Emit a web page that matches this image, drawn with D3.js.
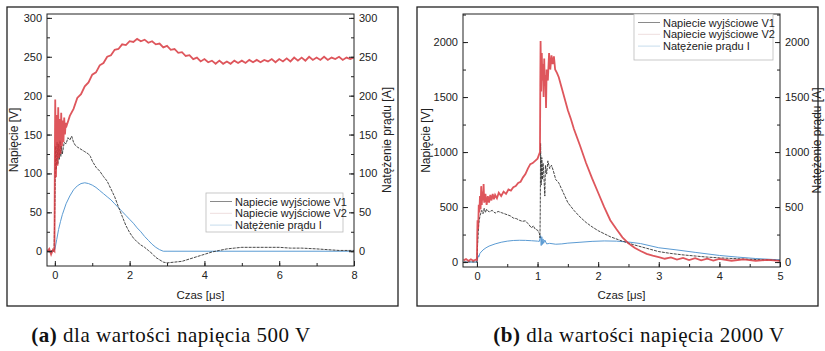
<!DOCTYPE html>
<html lang="pl">
<head>
<meta charset="utf-8" />
<script src="https://d3js.org/d3.v7.min.js"></script>
<style>
  html, body { margin: 0; padding: 0; background: #fff; }
  svg { display: block; }
</style>
</head>
<body>
<svg id="canvas" width="825" height="351"></svg>
<script>
// ---- dane: panel (a), 500 V ----  [czas us, wartosc]
var aV1 = [[-0.2,0],[-0.1,1],[-0.02,0],[0,60],[0.02,135],[0.04,105],[0.06,140],[0.08,112],[0.10,138],[0.12,118],
  [0.14,142],[0.16,122],[0.18,135],[0.2,125],[0.25,140],[0.3,138],[0.35,146],[0.4,143],[0.45,148],[0.5,140],
  [0.55,136],[0.6,134],[0.7,131],[0.8,128],[0.9,125],[0.95,122],[1.0,116],[1.1,108],[1.2,103],[1.3,96],[1.4,90],
  [1.5,80],[1.6,70],[1.7,57],[1.8,45],[1.9,33],[2.0,24],[2.1,17],[2.2,12],[2.3,8],[2.4,5],[2.5,1],[2.6,-3],
  [2.7,-8],[2.8,-11],[2.9,-14],[3.0,-15],[3.2,-14],[3.4,-13],[3.6,-10],[3.8,-7],[4.0,-4],[4.2,-1],[4.4,1],
  [4.6,3],[4.8,4],[5.0,5],[5.3,5],[5.6,5],[6.0,5],[6.3,4],[6.6,4],[7.0,3],[7.3,2],[7.6,1],[8.0,1]];
var aV2 = [[-0.2,0],[-0.15,3],[-0.1,-4],[-0.05,2],[-0.01,0],[0,120],[0.01,195],[0.03,95],[0.05,175],[0.07,110],
  [0.09,185],[0.11,120],[0.13,170],[0.15,125],[0.17,178],[0.19,135],[0.21,168],[0.23,140],[0.25,172],[0.27,150],
  [0.29,165],[0.3,159],[0.4,174],[0.5,183],[0.6,197],[0.7,202],[0.8,212],[0.9,217],[1.0,227],[1.1,230],[1.2,239],
  [1.3,242],[1.4,250],[1.5,252],[1.6,259],[1.7,260],[1.8,266],[1.9,265],[2.0,270],[2.1,269],[2.2,273],[2.3,270],
  [2.4,272],[2.5,268],[2.6,270],[2.7,266],[2.8,267],[2.9,262],[3.0,264],[3.1,259],[3.2,260],[3.3,255],[3.4,256],
  [3.5,251],[3.6,252],[3.7,247],[3.8,249],[3.9,244],[4.0,247],[4.1,243],[4.2,245],[4.3,241],[4.4,245],[4.5,241],
  [4.6,244],[4.7,241],[4.8,245],[4.9,242],[5.0,245],[5.1,242],[5.2,246],[5.3,243],[5.4,246],[5.5,243],[5.6,246],
  [5.7,244],[5.8,247],[5.9,243],[6.0,247],[6.1,244],[6.2,248],[6.3,244],[6.4,249],[6.5,245],[6.6,249],[6.7,245],
  [6.8,250],[6.9,246],[7.0,249],[7.1,246],[7.2,250],[7.3,246],[7.4,249],[7.5,247],[7.6,250],[7.7,246],[7.8,249],
  [7.9,247],[8.0,249]];
var aI = [[-0.2,0],[-0.05,0],[0,2],[0.05,15],[0.1,28],[0.15,38],[0.2,47],[0.3,61],[0.4,71],[0.5,79],[0.6,84],
  [0.7,87],[0.8,88],[0.9,87],[1.0,85],[1.1,82],[1.2,78],[1.3,74],[1.4,70],[1.5,66],[1.6,61],[1.7,56],[1.8,51],
  [1.9,46],[2.0,41],[2.1,36],[2.2,30],[2.3,25],[2.4,19],[2.5,14],[2.6,9],[2.7,5],[2.8,2],[2.9,0],[3.0,0],[8,0]];
var aXTicks = [0, 2, 4, 6, 8];
var aYTicks = [0, 50, 100, 150, 200, 250, 300];

// ---- dane: panel (b), 2000 V ----
var bV1 = [[-0.22,0],[-0.1,2],[0,0],[0.01,150],[0.03,350],[0.05,420],[0.08,470],[0.1,440],[0.12,490],[0.14,450],
  [0.16,480],[0.2,455],[0.25,470],[0.3,445],[0.35,460],[0.4,450],[0.45,440],[0.5,430],[0.55,420],[0.6,400],
  [0.65,395],[0.7,380],[0.75,370],[0.8,375],[0.85,345],[0.9,310],[0.93,330],[0.96,300],[1.0,290],[1.03,260],
  [1.04,220],[1.045,500],[1.05,1080],[1.06,700],[1.07,950],[1.08,750],[1.09,900],[1.1,830],[1.12,600],[1.13,880],
  [1.15,800],[1.17,920],[1.2,850],[1.23,880],[1.26,830],[1.3,750],[1.35,720],[1.4,660],[1.5,540],[1.6,470],
  [1.7,410],[1.8,360],[1.9,320],[2.0,285],[2.2,230],[2.4,190],[2.6,155],[2.8,125],[3.0,95],[3.2,78],[3.4,65],
  [3.6,55],[3.8,45],[4.0,38],[4.5,25],[5.0,15]];
var bV2 = [[-0.22,15],[-0.18,28],[-0.14,10],[-0.1,25],[-0.06,12],[-0.02,22],[0,20],[0.005,250],[0.01,380],
  [0.02,300],[0.03,520],[0.04,450],[0.05,600],[0.06,480],[0.07,690],[0.08,520],[0.09,640],[0.1,560],[0.11,710],
  [0.12,540],[0.14,620],[0.16,520],[0.18,600],[0.2,540],[0.22,610],[0.24,560],[0.26,620],[0.28,570],[0.3,610],
  [0.33,580],[0.36,630],[0.4,600],[0.44,640],[0.48,620],[0.52,660],[0.56,650],[0.6,680],[0.64,690],[0.68,720],
  [0.72,730],[0.76,770],[0.8,800],[0.84,850],[0.88,890],[0.92,900],[0.96,920],[1.0,940],[1.02,970],[1.04,1000],
  [1.045,1600],[1.05,2010],[1.06,1550],[1.07,1900],[1.08,1650],[1.09,1800],[1.1,1500],[1.11,1850],[1.12,1600],
  [1.13,1700],[1.14,1400],[1.15,1750],[1.17,1650],[1.19,1900],[1.21,1750],[1.23,1880],[1.25,1800],[1.27,1870],
  [1.29,1750],[1.32,1720],[1.35,1680],[1.4,1580],[1.45,1480],[1.5,1380],[1.55,1300],[1.6,1210],[1.7,1060],
  [1.8,900],[1.9,760],[2.0,630],[2.1,500],[2.2,380],[2.3,300],[2.4,225],[2.5,170],[2.6,130],[2.7,100],[2.8,75],
  [2.9,58],[3.0,45],[3.1,30],[3.2,42],[3.3,22],[3.4,38],[3.5,18],[3.6,35],[3.7,15],[3.8,30],[3.9,14],[4.0,28],
  [4.2,12],[4.4,24],[4.6,10],[4.8,20],[5.0,10]];
var bI = [[-0.22,0],[0,0],[0.01,30],[0.02,60],[0.03,45],[0.05,80],[0.1,110],[0.15,130],[0.2,145],[0.3,165],
  [0.4,180],[0.5,190],[0.6,196],[0.7,198],[0.8,197],[0.9,194],[1.0,190],[1.03,188],[1.05,240],[1.06,150],
  [1.07,230],[1.08,160],[1.09,210],[1.1,170],[1.12,200],[1.15,165],[1.2,170],[1.3,162],[1.4,165],[1.5,172],
  [1.7,180],[1.9,188],[2.1,192],[2.3,190],[2.5,182],[2.7,168],[3.0,130],[3.3,110],[3.6,88],[4.0,60],[4.3,45],
  [4.6,32],[5.0,20]];
var bXTicks = [0, 1, 2, 3, 4, 5];
var bYTicks = [0, 500, 1000, 1500, 2000];

var legendNames = ["Napiecie wyjściowe V1", "Napiecie wyjściowe V2", "Natężenie prądu I"];
var captions = [["(a)", " dla wartości napięcia 500 V"], ["(b)", " dla wartości napięcia 2000 V"]];

var svg = d3.select("#canvas");
var font = "'Liberation Sans', Arial, sans-serif";
var fmt = d3.format("d");

function drawPanel(p) {
  var g = svg.append("g");
  g.append("rect").attr("x", p.frame[0]).attr("y", p.frame[1]).attr("width", p.frame[2]).attr("height", p.frame[3])
    .attr("fill", "none").attr("stroke", "#222").attr("stroke-width", 1.3);

  var x = d3.scaleLinear().domain(p.xDom).range([p.left, p.right]);
  var y = d3.scaleLinear().domain(p.yDom).range([p.bottom, p.top]);

  var clipId = "clip" + p.id;
  g.append("clipPath").attr("id", clipId).append("rect")
    .attr("x", p.left).attr("y", p.top).attr("width", p.right - p.left).attr("height", p.bottom - p.top);

  var line = d3.line().x(function(d){ return x(d[0]); }).y(function(d){ return y(d[1]); });
  var plot = g.append("g").attr("clip-path", "url(#" + clipId + ")");
  plot.append("path").attr("d", line(p.i)).attr("fill", "none").attr("stroke", "#5b9bd3").attr("stroke-width", 1);
  plot.append("path").attr("d", line(p.v1)).attr("fill", "none").attr("stroke", "#333").attr("stroke-width", 0.9)
    .attr("stroke-dasharray", "3,1");
  plot.append("path").attr("d", line(p.v2)).attr("fill", "none").attr("stroke", "#d8383f").attr("stroke-width", 1.8)
    .attr("stroke-opacity", 0.85);

  // osie, tick do srodka
  var minorX = d3.range(0, p.xDom[1] + 1e-9, p.xMinor);
  var minorY = d3.range(0, p.yDom[1], p.yMinor);
  var axes = [
    [d3.axisBottom(x).tickValues(p.xTicks), "translate(0," + p.bottom + ")", d3.axisBottom(x).tickValues(minorX)],
    [d3.axisLeft(y).tickValues(p.yTicks), "translate(" + p.left + ",0)", d3.axisLeft(y).tickValues(minorY)],
    [d3.axisRight(y).tickValues(p.yTicks), "translate(" + p.right + ",0)", d3.axisRight(y).tickValues(minorY)]
  ];
  axes.forEach(function(a) {
    var minor = g.append("g").attr("transform", a[1]).call(a[2].tickSize(-3).tickFormat("").tickSizeOuter(0));
    minor.select(".domain").remove();
    var ax = g.append("g").attr("transform", a[1])
      .call(a[0].tickSize(-5).tickSizeOuter(0).tickPadding(5).tickFormat(fmt));
    ax.select(".domain").remove();
    ax.selectAll("text").attr("font-family", font).attr("font-size", 11).attr("fill", "#222");
  });
  g.selectAll(".tick line").attr("stroke", "#222");

  g.append("rect").attr("x", p.left).attr("y", p.top).attr("width", p.right - p.left).attr("height", p.bottom - p.top)
    .attr("fill", "none").attr("stroke", "#222").attr("stroke-width", 1);

  // tytuly osi
  g.append("text").attr("x", (p.left + p.right) / 2).attr("y", 299).attr("text-anchor", "middle")
    .attr("font-family", font).attr("font-size", 11.5).attr("fill", "#222").text("Czas [μs]");
  g.append("text").attr("transform", "translate(" + p.yTitleL + "," + (p.top + p.bottom) / 2 + ") rotate(-90)")
    .attr("text-anchor", "middle").attr("font-family", font).attr("font-size", 12).attr("fill", "#222")
    .text("Napięcie [V]");
  g.append("text").attr("transform", "translate(" + p.yTitleR + "," + (p.top + p.bottom) / 2 + ") rotate(-90)")
    .attr("text-anchor", "middle").attr("font-family", font).attr("font-size", 12).attr("fill", "#222")
    .text("Natężenie prądu [A]");

  // legenda
  var lg = g.append("g");
  lg.append("rect").attr("x", p.leg[0]).attr("y", p.leg[1]).attr("width", p.leg[2]).attr("height", p.leg[3])
    .attr("fill", "#fff").attr("stroke", "#bbb").attr("stroke-width", 0.8);
  var legCols = ["#8a8a8a", "#eedede", "#c6dcec"];
  legendNames.forEach(function(n, k) {
    var yy = p.leg[1] + 8.5 + k * 11.8;
    lg.append("line").attr("x1", p.leg[0] + 4).attr("x2", p.leg[0] + 26).attr("y1", yy).attr("y2", yy)
      .attr("stroke", legCols[k]).attr("stroke-width", 1);
    lg.append("text").attr("x", p.leg[0] + 29).attr("y", yy + 4).attr("font-family", font).attr("font-size", 11)
      .attr("fill", "#222").text(n);
  });

  // podpis
  var cap = svg.append("text").attr("x", p.capX).attr("y", 342).attr("text-anchor", "middle")
    .attr("font-family", "'Liberation Serif', 'DejaVu Serif', serif").attr("font-size", 21)
    .attr("letter-spacing", 0.5).attr("fill", "#111");
  cap.append("tspan").attr("font-weight", "bold").text(p.cap[0]);
  cap.append("tspan").text(p.cap[1]);
}

drawPanel({ id: "a", frame: [7, 7, 391, 299], left: 47, right: 354, top: 14, bottom: 266,
  xDom: [-0.21, 8], yDom: [-19, 305], xTicks: aXTicks, yTicks: aYTicks, xMinor: 1, yMinor: 25,
  v1: aV1, v2: aV2, i: aI, yTitleL: 18, yTitleR: 391, leg: [206, 193, 137, 39], capX: 171, cap: captions[0] });

drawPanel({ id: "b", frame: [417, 7, 401, 299], left: 463, right: 780, top: 14, bottom: 267,
  xDom: [-0.23, 5.0], yDom: [-45, 2255], xTicks: bXTicks, yTicks: bYTicks, xMinor: 0.5, yMinor: 250,
  v1: bV1, v2: bV2, i: bI, yTitleL: 430, yTitleR: 821, leg: [634, 14, 139, 46], capX: 639, cap: captions[1] });
</script>
</body>
</html>
